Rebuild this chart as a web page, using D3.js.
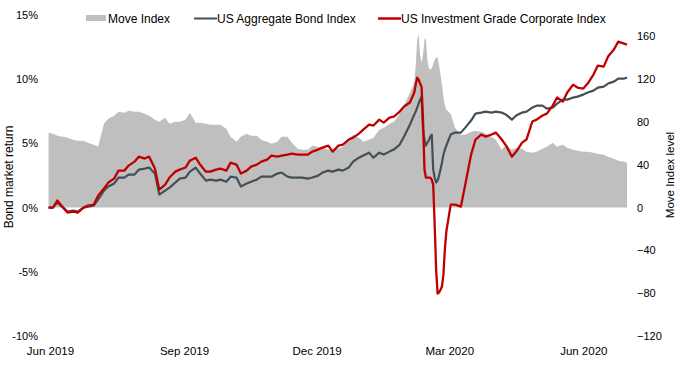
<!DOCTYPE html>
<html>
<head>
<meta charset="utf-8">
<script src="https://cdn.jsdelivr.net/npm/d3@7"></script>
<style>
  body { margin: 0; background: #fff; }
  svg text { font-family: "Liberation Sans", Arial, sans-serif; fill: #000; }
</style>
</head>
<body>
<script>
// dates of each observation
const dates = [
  "2019-05-31","2019-06-03","2019-06-06","2019-06-10","2019-06-13","2019-06-17","2019-06-20","2019-06-24","2019-06-27",
  "2019-07-01","2019-07-04","2019-07-08","2019-07-11","2019-07-15","2019-07-18","2019-07-22","2019-07-25","2019-07-29",
  "2019-08-01","2019-08-05","2019-08-08","2019-08-12","2019-08-15","2019-08-19","2019-08-22","2019-08-26","2019-08-29",
  "2019-09-02","2019-09-05","2019-09-09","2019-09-12","2019-09-16","2019-09-19","2019-09-23","2019-09-26","2019-09-30",
  "2019-10-03","2019-10-07","2019-10-10","2019-10-14","2019-10-17","2019-10-21","2019-10-24","2019-10-28","2019-10-31",
  "2019-11-04","2019-11-07","2019-11-11","2019-11-14","2019-11-18","2019-11-21","2019-11-25","2019-11-28",
  "2019-12-02","2019-12-05","2019-12-09","2019-12-12","2019-12-16","2019-12-19","2019-12-23","2019-12-26","2019-12-30",
  "2020-01-02","2020-01-06","2020-01-09","2020-01-13","2020-01-16","2020-01-20","2020-01-23","2020-01-27","2020-01-30",
  "2020-02-03","2020-02-06","2020-02-07","2020-02-08","2020-02-09","2020-02-10","2020-02-11","2020-02-12","2020-02-13",
  "2020-02-14","2020-02-15","2020-02-16","2020-02-17","2020-02-18","2020-02-19","2020-02-20","2020-02-21","2020-02-22",
  "2020-02-23","2020-02-24","2020-02-25","2020-02-26","2020-02-27","2020-02-28",
  "2020-03-02","2020-03-05","2020-03-09","2020-03-12","2020-03-16","2020-03-19","2020-03-23","2020-03-26","2020-03-30",
  "2020-04-02","2020-04-06","2020-04-09","2020-04-13","2020-04-16","2020-04-20","2020-04-23","2020-04-27","2020-04-30",
  "2020-05-04","2020-05-07","2020-05-11","2020-05-14","2020-05-18","2020-05-21","2020-05-25","2020-05-28",
  "2020-06-01","2020-06-04","2020-06-08","2020-06-11","2020-06-15","2020-06-18","2020-06-22","2020-06-25","2020-06-29",
  "2020-07-01"
];

// MOVE index level (right axis)
const moveIndex = [
  69.9,69.0,67.1,66.2,65.3,63.4,62.5,62.5,60.6,
  58.7,56.9,78.3,83.0,85.8,89.5,88.6,90.4,89.5,
  89.5,87.6,85.8,82.1,80.2,83.9,78.3,80.2,80.2,
  82.1,88.6,79.3,79.3,78.3,77.4,77.4,77.4,73.7,
  66.2,61.5,66.2,69.0,67.1,67.1,63.4,61.5,59.7,
  61.5,66.2,66.2,60.6,55.0,54.1,54.1,57.8,
  56.9,55.9,54.1,54.1,55.0,56.9,63.4,68.1,65.3,
  61.5,63.4,65.3,72.7,74.6,78.3,80.2,87.6,96.0,
  107.2,117.5,133.3,156.6,162.2,142.7,135.2,142.7,156.6,
  158.5,138.0,130.5,128.7,130.5,134.3,138.0,140.8,139.9,
  133.3,124.0,114.7,102.6,96.0,91.4,
  87.6,74.6,68.1,68.1,70.9,71.8,70.9,69.0,66.2,
  63.4,54.1,58.7,54.1,55.9,55.0,52.2,51.3,52.2,
  55.0,56.9,60.6,56.9,58.7,55.9,54.1,53.1,
  52.2,52.2,51.3,50.3,49.4,47.6,45.7,43.8,42.9,
  42.0
];

// US Aggregate Bond Index return, %
const aggregateBond = [
  0,0,0.39,0,-0.31,-0.23,-0.31,0,0.08,
  0.16,0.62,1.32,1.64,1.87,2.34,2.34,2.57,2.57,
  2.96,3.04,3.12,2.65,1.01,1.32,1.56,1.95,2.26,
  2.34,2.80,3.12,2.65,2.10,2.18,2.10,2.18,2.02,
  2.41,2.34,1.64,1.87,2.02,2.18,2.41,2.41,2.41,
  2.65,2.73,2.41,2.34,2.34,2.34,2.26,2.34,
  2.49,2.73,2.88,2.80,2.96,2.88,3.12,3.58,3.89,
  4.05,4.28,3.89,4.28,4.13,4.36,4.52,4.91,5.53,
  6.46,7.24,7.48,7.79,8.10,8.41,8.64,6.07,5.30,
  4.83,5.06,5.22,5.53,5.69,2.96,2.34,1.95,2.10,
  2.49,2.96,3.50,4.13,4.52,4.83,
  5.69,5.84,5.84,6.23,6.78,7.32,7.40,7.48,7.40,
  7.48,7.40,7.24,6.85,7.17,7.40,7.48,7.79,7.94,
  7.94,7.71,7.79,8.10,8.41,8.41,8.57,8.64,
  8.80,8.96,9.11,9.35,9.42,9.66,9.81,10.05,10.05,
  10.12
];

// US Investment Grade Corporate Index return, %
const corporateIG = [
  0,0,0.55,0,-0.39,-0.31,-0.39,0,0.16,
  0.23,0.93,1.48,1.95,2.26,2.88,2.88,3.27,3.58,
  3.97,3.82,3.97,3.04,1.40,1.79,2.34,2.80,2.96,
  3.12,3.66,3.89,3.35,2.80,2.80,2.96,3.04,2.88,
  3.50,3.35,2.65,2.88,3.19,3.35,3.58,3.74,4.05,
  3.97,4.05,4.13,4.21,4.13,4.13,4.13,4.36,
  4.52,4.67,4.83,4.36,4.83,4.91,5.30,5.45,5.76,
  6.07,6.46,6.39,6.85,6.62,7.01,7.09,7.48,7.87,
  8.18,8.96,9.58,10.12,9.97,9.66,9.42,6.85,2.96,
  2.34,2.34,2.34,2.34,2.18,1.79,-1.32,-4.83,-6.70,
  -6.62,-6.39,-6.15,-5.22,-3.27,-1.87,
  0.23,0.23,0.08,1.79,4.13,5.30,5.69,5.53,5.69,
  5.84,5.30,4.83,3.97,4.36,5.06,5.30,6.70,6.85,
  7.17,7.32,7.94,8.57,8.26,8.96,9.58,9.35,
  9.27,9.66,10.36,11.06,10.98,11.76,12.31,12.93,12.77,
  12.69
];

const leftTicks = [-10, -5, 0, 5, 10, 15];
const rightTicks = [-120, -80, -40, 0, 40, 80, 120, 160];
const monthTicks = ["2019-06-01", "2019-09-01", "2019-12-01", "2020-03-01", "2020-06-01"];
const seriesNames = ["Move Index", "US Aggregate Bond Index", "US Investment Grade Corporate Index"];

const width = 680;
const height = 367;
const plot = {left: 50, right: 627, top: 15, bottom: 336};

const moveColor = "#bfbfbf";
const aggColor = "#435058";
const corpColor = "#c00000";

const parse = d3.timeParse("%Y-%m-%d");
const rows = dates.map((d, i) => ({
  date: parse(d),
  move: moveIndex[i],
  agg: aggregateBond[i],
  corp: corporateIG[i]
}));

const svg = d3.select("body").append("svg")
    .attr("width", width)
    .attr("height", height);

const x = d3.scaleTime()
    .domain([parse("2019-06-01"), parse("2020-07-01")])
    .range([plot.left, plot.right]);

const yLeft = d3.scaleLinear()
    .domain([-10, 15])
    .range([plot.bottom, plot.top]);

const yRight = d3.scaleLinear()
    .domain([-120, 180])
    .range([plot.bottom, plot.top]);

// move index area
const area = d3.area()
    .x(d => x(d.date))
    .y0(yRight(0))
    .y1(d => yRight(d.move));

svg.append("path")
    .datum(rows)
    .attr("d", area)
    .attr("fill", moveColor);

const aggLine = d3.line()
    .x(d => x(d.date))
    .y(d => yLeft(d.agg));

const corpLine = d3.line()
    .x(d => x(d.date))
    .y(d => yLeft(d.corp));

svg.append("path")
    .datum(rows)
    .attr("d", aggLine)
    .attr("fill", "none")
    .attr("stroke", aggColor)
    .attr("stroke-width", 2.2)
    .attr("stroke-linejoin", "round");

svg.append("path")
    .datum(rows)
    .attr("d", corpLine)
    .attr("fill", "none")
    .attr("stroke", corpColor)
    .attr("stroke-width", 2.3)
    .attr("stroke-linejoin", "round");

// axes
const leftAxis = svg.append("g")
    .attr("transform", "translate(44,0)")
    .call(d3.axisLeft(yLeft).tickValues(leftTicks).tickFormat(d => d + "%").tickSize(0).tickPadding(6));

const rightAxis = svg.append("g")
    .attr("transform", "translate(631,0)")
    .call(d3.axisRight(yRight).tickValues(rightTicks).tickSize(0).tickPadding(6));

const bottomAxis = svg.append("g")
    .attr("transform", `translate(0,${plot.bottom})`)
    .call(d3.axisBottom(x).tickValues(monthTicks.map(parse)).tickFormat(d3.timeFormat("%b %Y")).tickSize(0).tickPadding(11));

[leftAxis, rightAxis, bottomAxis].forEach(g => {
  g.select(".domain").remove();
  g.attr("font-family", null).attr("font-size", null);
  g.selectAll("text").style("font-size", "11px").attr("fill", "#000");
});
bottomAxis.selectAll("text").style("font-size", "11.5px");

// axis titles
svg.append("text")
    .attr("transform", "translate(9,177) rotate(-90)")
    .attr("text-anchor", "middle")
    .attr("dy", "0.35em")
    .style("font-size", "12px")
    .text("Bond market return");

svg.append("text")
    .attr("transform", "translate(670,175) rotate(-90)")
    .attr("text-anchor", "middle")
    .attr("dy", "0.35em")
    .style("font-size", "11.5px")
    .text("Move Index level");

// legend
const legendX = [86, 194, 378];
const legendColors = [moveColor, aggColor, corpColor];

const legend = svg.append("g")
    .selectAll("g")
    .data(seriesNames)
    .join("g")
    .attr("transform", (d, i) => `translate(${legendX[i]},0)`);

legend.each(function(d, i) {
  const g = d3.select(this);
  if (i === 0) {
    g.append("rect")
        .attr("x", 0).attr("y", 15)
        .attr("width", 20).attr("height", 6)
        .attr("fill", legendColors[i]);
  } else {
    g.append("line")
        .attr("x1", 0).attr("x2", 23)
        .attr("y1", 18.5).attr("y2", 18.5)
        .attr("stroke", legendColors[i])
        .attr("stroke-width", i === 2 ? 2.5 : 2);
  }
  g.append("text")
      .attr("x", i === 0 ? 22 : 23)
      .attr("y", 22.5)
      .style("font-size", "12px")
      .text(d);
});
</script>
</body>
</html>
